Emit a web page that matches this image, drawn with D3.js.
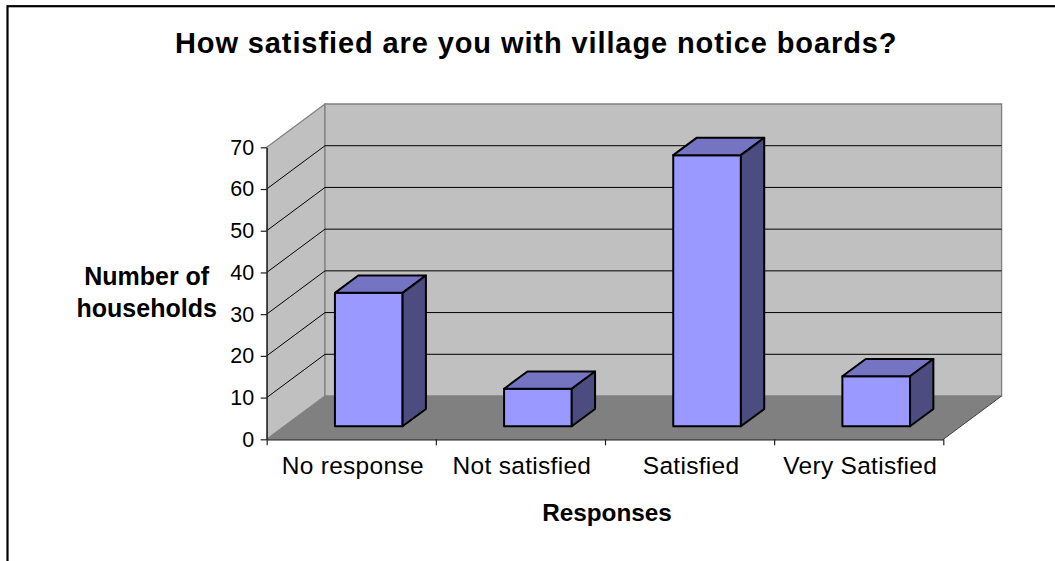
<!DOCTYPE html>
<html>
<head>
<meta charset="utf-8">
<script src="https://cdn.jsdelivr.net/npm/d3@7"></script>
<style>
  html, body { margin: 0; padding: 0; background: #ffffff; }
  svg { display: block; }
  text { font-family: "Liberation Sans", Arial, Helvetica, sans-serif; fill: #000; }
</style>
</head>
<body>
<svg id="chart" width="1055" height="561"></svg>
<script>
// Survey answers: households per response
const categories = ["No response", "Not satisfied", "Satisfied", "Very Satisfied"];
const households = [32, 9, 65, 12];
const valueTicks = [0, 10, 20, 30, 40, 50, 60, 70];

const chartTitle = "How satisfied are you with village notice boards?";
const xTitle = "Responses";
const yTitleLines = ["Number of", "households"];

const W = 1055, H = 561;
const svg = d3.select("#chart");

// frame
svg.append("rect")
  .attr("x", 7.5).attr("y", 6.2)
  .attr("width", W + 20).attr("height", H + 20)
  .attr("fill", "#ffffff").attr("stroke", "#000").attr("stroke-width", 2.2);

// plot geometry (front plane) and the oblique depth offset
const front = { left: 266.7, right: 943.3, bottom: 439.3, top: 147.3 };
const DX = 58.3, DY = 43.3;

const x = d3.scaleBand().domain(categories).range([front.left, front.right]);
const y = d3.scaleLinear().domain([0, 70]).range([front.bottom, front.top]);

// project a point at (screen x on the front plane, value, depth 0..1)
const P = (px, v, d) => [px + d * DX, y(v) - d * DY];
const poly = pts => "M" + pts.map(p => p.join(",")).join("L") + "Z";

const yMax = d3.max(valueTicks);
const wallGrey = "#c0c0c0", floorGrey = "#808080", edgeGrey = "#808080";

// side wall
svg.append("path")
  .attr("d", poly([P(front.left, 0, 0), P(front.left, yMax, 0), P(front.left, yMax, 1), P(front.left, 0, 1)]))
  .attr("fill", wallGrey).attr("stroke", edgeGrey).attr("stroke-width", 1.3);

// back wall
svg.append("path")
  .attr("d", poly([P(front.left, 0, 1), P(front.left, yMax, 1), P(front.right, yMax, 1), P(front.right, 0, 1)]))
  .attr("fill", wallGrey).attr("stroke", edgeGrey).attr("stroke-width", 1.3);

// floor
svg.append("path")
  .attr("d", poly([P(front.left, 0, 0), P(front.right, 0, 0), P(front.right, 0, 1), P(front.left, 0, 1)]))
  .attr("fill", floorGrey).attr("stroke", "none");

// gridlines across the side and back walls
const grid = valueTicks.filter(v => v > 0 && v < yMax);
const gridG = svg.append("g").attr("stroke", "#000").attr("stroke-width", 1).attr("fill", "none");
grid.forEach(v => {
  gridG.append("path").attr("d", "M" + P(front.left, v, 0).join(",") + "L" + P(front.left, v, 1).join(","));
  gridG.append("path").attr("d", "M" + P(front.left, v, 1).join(",") + "L" + P(front.right, v, 1).join(","));
});

// floor right edge
svg.append("path")
  .attr("d", "M" + P(front.right, 0, 0).join(",") + "L" + P(front.right, 0, 1).join(","))
  .attr("stroke", "#404040").attr("stroke-width", 1).attr("fill", "none");

// 3-D columns
const bw = x.bandwidth();
const d1 = 0.3, d2 = 0.7;
const bars = svg.append("g").attr("stroke", "#000").attr("stroke-width", 2).attr("stroke-linejoin", "round");
categories.forEach((c, i) => {
  const v = households[i];
  const x0 = x(c) + bw * 0.3, x1 = x0 + bw * 0.4;
  bars.append("path").attr("fill", "#9999ff")
    .attr("d", poly([P(x0, 0, d1), P(x1, 0, d1), P(x1, v, d1), P(x0, v, d1)]));
  bars.append("path").attr("fill", "#7474c2")
    .attr("d", poly([P(x0, v, d1), P(x1, v, d1), P(x1, v, d2), P(x0, v, d2)]));
  bars.append("path").attr("fill", "#4c4c80")
    .attr("d", poly([P(x1, 0, d1), P(x1, 0, d2), P(x1, v, d2), P(x1, v, d1)]));
});

// value axis
const yAxis = d3.axisLeft(y).tickValues(valueTicks).tickSize(6).tickSizeOuter(0).tickPadding(6.5);
const yG = svg.append("g").attr("transform", `translate(${front.left},0)`).call(yAxis);
yG.select(".domain").attr("stroke", "#202020").attr("stroke-width", 1.3);
yG.selectAll(".tick line").attr("stroke", "#202020").attr("stroke-width", 1.2);
yG.selectAll(".tick text")
  .style("font-family", '"Liberation Sans", Arial, sans-serif')
  .style("font-size", "21.5px").attr("fill", "#000");

// category axis with ticks between categories
const boundary = d3.scaleLinear().domain([0, categories.length]).range([front.left, front.right]);
const xAxis = d3.axisBottom(boundary).tickValues(d3.range(categories.length + 1)).tickFormat("").tickSize(6).tickSizeOuter(0);
const xG = svg.append("g").attr("transform", `translate(0,${front.bottom})`).call(xAxis);
xG.select(".domain").attr("stroke", "#202020").attr("stroke-width", 1.3);
xG.selectAll(".tick line").attr("stroke", "#202020").attr("stroke-width", 1.2);

svg.append("g").selectAll("text").data(categories).join("text")
  .attr("x", c => x(c) + bw / 2 + 1.5)
  .attr("y", 474.3)
  .attr("text-anchor", "middle")
  .style("font-size", "24.5px")
  .style("letter-spacing", "0.3px")
  .text(c => c);

// titles
svg.append("text")
  .attr("x", 536.2).attr("y", 53.3)
  .attr("text-anchor", "middle")
  .style("font-size", "29px").style("font-weight", "bold").style("letter-spacing", "0.9px")
  .text(chartTitle);

svg.append("text")
  .attr("x", (front.left + front.right) / 2 + 2).attr("y", 521)
  .attr("text-anchor", "middle")
  .style("font-size", "24.3px").style("font-weight", "bold")
  .text(xTitle);

svg.append("text")
  .attr("x", 146.7).attr("y", 285)
  .attr("text-anchor", "middle")
  .style("font-size", "25px").style("font-weight", "bold")
  .selectAll("tspan").data(yTitleLines).join("tspan")
  .attr("x", 146.7).attr("dy", (d, i) => i === 0 ? 0 : 31.7)
  .text(d => d);
</script>
</body>
</html>
